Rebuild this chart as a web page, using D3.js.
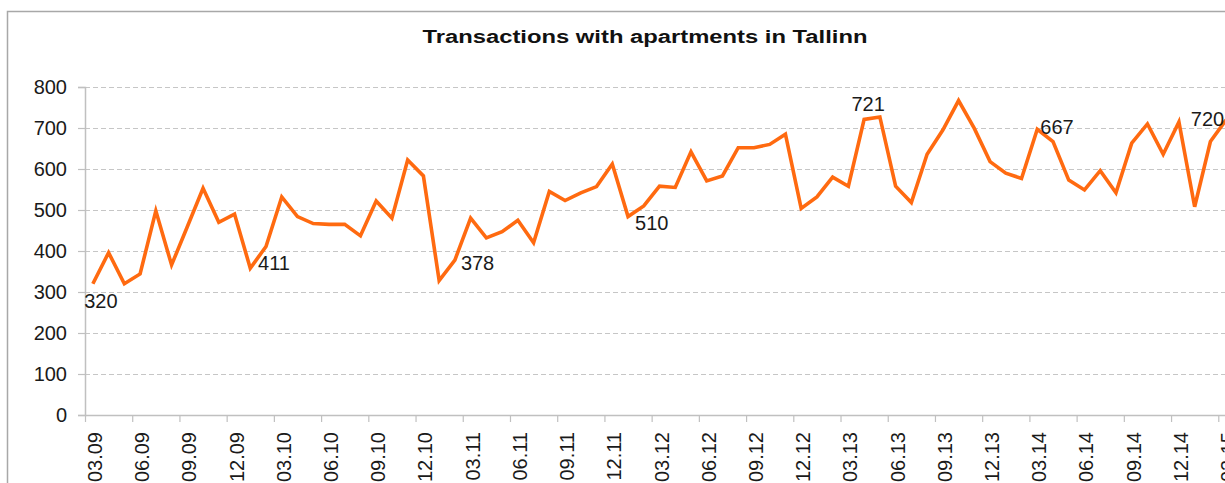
<!DOCTYPE html>
<html>
<head>
<meta charset="utf-8">
<script src="https://cdn.jsdelivr.net/npm/d3@7"></script>
<style>
  html, body { margin: 0; padding: 0; background: #fff; overflow: hidden; }
  svg { display: block; font-family: Arial, "Liberation Sans", sans-serif; }
</style>
</head>
<body>
<svg id="chart" width="1225" height="483"></svg>
<script>
const title = "Transactions with apartments in Tallinn";

const months = [
  "03.09","04.09","05.09","06.09","07.09","08.09","09.09","10.09","11.09","12.09","01.10","02.10",
  "03.10","04.10","05.10","06.10","07.10","08.10","09.10","10.10","11.10","12.10","01.11","02.11",
  "03.11","04.11","05.11","06.11","07.11","08.11","09.11","10.11","11.11","12.11","01.12","02.12",
  "03.12","04.12","05.12","06.12","07.12","08.12","09.12","10.12","11.12","12.12","01.13","02.13",
  "03.13","04.13","05.13","06.13","07.13","08.13","09.13","10.13","11.13","12.13","01.14","02.14",
  "03.14","04.14","05.14","06.14","07.14","08.14","09.14","10.14","11.14","12.14","01.15","02.15",
  "03.15"
];

const transactions = [
  320, 396, 320, 344, 498, 366, 459, 553, 470, 490, 358, 411,
  532, 484, 467, 465, 465, 437, 522, 480, 622, 583, 328, 378,
  480, 432, 447, 475, 420, 545, 523, 542, 557, 612, 484, 510,
  558, 555, 642, 571, 583, 652, 652, 660, 685, 504, 532, 580,
  558, 721, 727, 558, 518, 636, 695, 767, 699, 618, 590, 577,
  697, 667, 573, 549, 596, 542, 663, 710, 636, 715, 508, 667,
  720
];

const tickLabels = [
  "03.09","06.09","09.09","12.09","03.10","06.10","09.10","12.10","03.11","06.11","09.11","12.11",
  "03.12","06.12","09.12","12.12","03.13","06.13","09.13","12.13","03.14","06.14","09.14","12.14",
  "03.15"
];

const yTicks = [0, 100, 200, 300, 400, 500, 600, 700, 800];

// labelled points (month) and their label text
const labelMonths = ["03.09", "02.10", "02.11", "02.12", "04.13", "04.14", "03.15"];
const labelTexts  = ["320", "411", "378", "510", "721", "667", "720"];
const labelSide   = ["below", "below", "right", "below", "above", "above", "left"];

// ---------- drawing ----------
(function draw() {
const svg = d3.select("#chart");
const W = 1225, H = 483;
const plotLeft = 85, plotTop = 87, plotBottom = 415;
const step = 15.74;

const x = d3.scaleBand()
  .domain(months)
  .range([plotLeft, plotLeft + months.length * step])
  .paddingInner(0).paddingOuter(0);

const y = d3.scaleLinear().domain([0, 800]).range([plotBottom, plotTop]);

const cx = m => x(m) + x.bandwidth() / 2;

// outer frame
svg.append("rect")
  .attr("x", 7.5).attr("y", 11.5)
  .attr("width", W + 20).attr("height", H + 20)
  .attr("fill", "#fff")
  .attr("stroke", "#a8a8a8").attr("stroke-width", 1.5);

// title
svg.append("text")
  .attr("x", 645).attr("y", 43)
  .attr("text-anchor", "middle")
  .attr("font-size", 18).attr("font-weight", "bold")
  .attr("fill", "#111")
  .attr("textLength", 445).attr("lengthAdjust", "spacingAndGlyphs")
  .text(title);

// gridlines
svg.append("g").selectAll("line")
  .data(yTicks.filter(d => d > 0))
  .join("line")
  .attr("x1", plotLeft).attr("x2", x.range()[1])
  .attr("y1", d => Math.round(y(d)) + 0.5).attr("y2", d => Math.round(y(d)) + 0.5)
  .attr("stroke", "#c6c6c6").attr("stroke-width", 1)
  .attr("stroke-dasharray", "5,3");

// y axis
const yAxis = d3.axisLeft(y).tickValues(yTicks).tickSize(7).tickPadding(11)
  .tickFormat(d3.format("d"));
const gy = svg.append("g").attr("transform", `translate(${plotLeft},0)`).call(yAxis);
gy.select(".domain").attr("stroke", "#c0c0c0").attr("stroke-width", 1.5);
gy.selectAll(".tick line").attr("stroke", "#c0c0c0").attr("stroke-width", 1.2);
gy.selectAll(".tick text").attr("font-size", 20).attr("fill", "#1a1a1a")
  .attr("font-family", "Arial, 'Liberation Sans', sans-serif");

// x axis
const xAxis = d3.axisBottom(x).tickValues(tickLabels).tickSize(0).tickPadding(0);
const gx = svg.append("g").attr("transform", `translate(0,${plotBottom})`).call(xAxis);
gx.select(".domain").attr("stroke", "#c0c0c0").attr("stroke-width", 1.5);
gx.selectAll(".tick text")
  .attr("font-size", 20).attr("fill", "#1a1a1a")
  .attr("font-family", "Arial, 'Liberation Sans', sans-serif")
  .attr("text-anchor", "end")
  .attr("dy", null).attr("y", 0)
  .attr("transform", "translate(2,17) rotate(-90)")
  .attr("dominant-baseline", "central");
// tick marks at category boundaries (left edge of each labelled month)
svg.append("g").selectAll("line")
  .data(tickLabels)
  .join("line")
  .attr("x1", d => x(d) + 0.5).attr("x2", d => x(d) + 0.5)
  .attr("y1", plotBottom).attr("y2", plotBottom + 7)
  .attr("stroke", "#c0c0c0").attr("stroke-width", 1.2);

// series line
const line = d3.line()
  .x((d, i) => cx(months[i]))
  .y(d => y(d));
svg.append("path")
  .datum(transactions)
  .attr("d", line)
  .attr("fill", "none")
  .attr("stroke", "#ff6a10")
  .attr("stroke-width", 3.6)
  .attr("stroke-linejoin", "miter");

// data labels
const place = {
  below: { anchor: "middle", dx: 8, dy: 24 },
  right: { anchor: "start", dx: 6, dy: 10 },
  above: { anchor: "middle", dx: 4, dy: -8 },
  left:  { anchor: "end", dx: -2, dy: 6 }
};
svg.append("g").selectAll("text")
  .data(labelMonths.map((m, i) => ({ m, t: labelTexts[i], s: labelSide[i] })))
  .join("text")
  .attr("x", d => cx(d.m) + place[d.s].dx)
  .attr("y", d => y(transactions[months.indexOf(d.m)]) + place[d.s].dy)
  .attr("text-anchor", d => place[d.s].anchor)
  .attr("font-size", 20).attr("fill", "#1a1a1a")
  .text(d => d.t);
})();
</script>
</body>
</html>
